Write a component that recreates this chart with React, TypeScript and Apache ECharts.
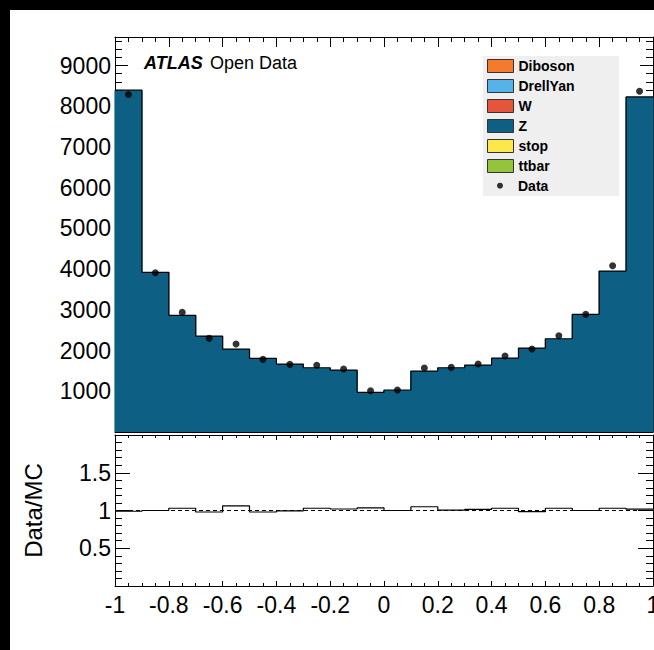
import React, { useEffect, useRef } from "react";
import * as echarts from "echarts";

// ---------- data ----------
const binEdges = [-1, -0.9, -0.8, -0.7, -0.6, -0.5, -0.4, -0.3, -0.2, -0.1, 0, 0.1, 0.2, 0.3, 0.4, 0.5, 0.6, 0.7, 0.8, 0.9, 1];

const processes = ["Diboson", "DrellYan", "W", "Z", "stop", "ttbar"];

const dibosonCounts = [0, 0, 0, 0, 0, 0, 0, 0, 0, 0, 0, 0, 0, 0, 0, 0, 0, 0, 0, 0];
const drellYanCounts = [0, 0, 0, 0, 0, 0, 0, 0, 0, 0, 0, 0, 0, 0, 0, 0, 0, 0, 0, 0];
const wCounts = [0, 0, 0, 0, 0, 0, 0, 0, 0, 0, 0, 0, 0, 0, 0, 0, 0, 0, 0, 0];
const zCounts = [8393, 3920, 2864, 2356, 2037, 1808, 1669, 1578, 1521, 974, 1031, 1497, 1578, 1644, 1816, 2061, 2290, 2888, 3951, 8228];
const stopCounts = [0, 0, 0, 0, 0, 0, 0, 0, 0, 0, 0, 0, 0, 0, 0, 0, 0, 0, 0, 0];
const ttbarCounts = [0, 0, 0, 0, 0, 0, 0, 0, 0, 0, 0, 0, 0, 0, 0, 0, 0, 0, 0, 0];

const dataCounts = [8287, 3910, 2937, 2299, 2160, 1784, 1660, 1637, 1546, 1013, 1031, 1571, 1587, 1669, 1865, 2037, 2364, 2888, 4081, 8368];

const ratioValues = [0.99, 1.0, 1.03, 0.98, 1.06, 0.98, 0.995, 1.03, 1.02, 1.035, 1.0, 1.05, 1.005, 1.015, 1.03, 0.985, 1.03, 1.0, 1.03, 1.017];

const xTickLabels = ["-1", "-0.8", "-0.6", "-0.4", "-0.2", "0", "0.2", "0.4", "0.6", "0.8", "1"];
const yTickLabels = ["1000", "2000", "3000", "4000", "5000", "6000", "7000", "8000", "9000"];
const ratioTickLabels = ["0.5", "1", "1.5"];

// ---------- styles ----------
const processColors: Record<string, string> = {
  Diboson: "#f57b2c",
  DrellYan: "#56b3ea",
  W: "#e4553a",
  Z: "#0d6084",
  stop: "#fde84b",
  ttbar: "#93c43a",
};
const FONT = "Liberation Sans";

export default function App() {
  const ref = useRef<HTMLDivElement>(null);

  useEffect(() => {
    if (!ref.current) return;
    document.documentElement.style.overflow = "hidden";
    document.body.style.overflow = "hidden";
    const chart = echarts.init(ref.current, undefined, { renderer: "svg" });

    const countsByProcess: Record<string, number[]> = {
      Diboson: dibosonCounts,
      DrellYan: drellYanCounts,
      W: wCounts,
      Z: zCounts,
      stop: stopCounts,
      ttbar: ttbarCounts,
    };
    const stackOrder = ["Z", "DrellYan", "W", "Diboson", "stop", "ttbar"];
    const base = zCounts.map(() => 0);
    const stackSeries: any[] = [];
    stackOrder.forEach((name) => {
      const vals = countsByProcess[name];
      const rows = vals.map((v, i) => {
        const row = [binEdges[i], binEdges[i + 1], base[i], base[i] + v, v];
        base[i] += v;
        return row;
      });
      stackSeries.push({
        name,
        type: "custom",
        xAxisIndex: 0,
        yAxisIndex: 0,
        itemStyle: { color: processColors[name] },
        encode: { x: [0, 1], y: [2, 3] },
        data: rows,
        z: 2,
        renderItem: (_p: any, api: any) => {
          if (api.value(4) <= 0) return null;
          const p0 = api.coord([api.value(0), api.value(3)]);
          const p1 = api.coord([api.value(1), api.value(2)]);
          return {
            type: "rect",
            shape: { x: p0[0] - 0.6, y: p0[1], width: p1[0] - p0[0] + 1.2, height: p1[1] - p0[1] },
            style: { fill: processColors[name] },
          };
        },
      });
    });
    const totals = base;

    const outline = binEdges.map((e, i) => [e, totals[Math.min(i, totals.length - 1)]]);
    const dataPoints = dataCounts.map((v, i) => [(binEdges[i] + binEdges[i + 1]) / 2, v]);
    const ratioLine = binEdges.map((e, i) => [e, ratioValues[Math.min(i, ratioValues.length - 1)]]);

    const black = "#000";
    const mkX = (gridIndex: number, position: string, major: number, minor: number, labels: boolean) => ({
      type: "value",
      gridIndex,
      position,
      min: -1,
      max: 1,
      interval: 0.2,
      splitLine: { show: false },
      axisLine: { show: true, onZero: false, lineStyle: { color: black, width: 1 } },
      axisTick: { show: true, inside: true, length: major, lineStyle: { color: black, width: 1 } },
      minorTick: { show: true, splitNumber: 4, length: minor, lineStyle: { color: black, width: 1 } },
      axisLabel: labels
        ? {
            show: true,
            margin: 7,
            color: black,
            fontFamily: FONT,
            fontSize: 23,
            showMinLabel: true,
            showMaxLabel: true,
            hideOverlap: false,
            formatter: (v: number) => xTickLabels[Math.round((v + 1) / 0.2)] ?? "",
          }
        : { show: false },
    });

    const mkY = (
      gridIndex: number,
      position: string,
      min: number,
      max: number,
      interval: number,
      major: number,
      minor: number,
      labels: string[] | null,
      extra: any = {}
    ) => ({
      type: "value",
      gridIndex,
      position,
      min,
      max,
      interval,
      splitLine: { show: false },
      axisLine: { show: true, onZero: false, lineStyle: { color: black, width: 1 } },
      axisTick: { show: true, inside: true, length: major, lineStyle: { color: black, width: 1 } },
      minorTick: { show: true, splitNumber: 5, length: minor, lineStyle: { color: black, width: 1 } },
      axisLabel: labels
        ? {
            show: true,
            margin: 4,
            color: black,
            fontFamily: FONT,
            fontSize: 23,
            formatter: (v: number) => {
              const s = String(+v.toFixed(2));
              return labels.includes(s) ? s : "";
            },
          }
        : { show: false },
      ...extra,
    });

    const legendText = { fontFamily: FONT, fontWeight: "bold", fontSize: 14, color: black };

    chart.setOption({
      animation: false,
      backgroundColor: "#fff",
      grid: [
        { left: 115, top: 37, width: 538, height: 395 },
        { left: 115, top: 435, width: 538, height: 151 },
      ],
      xAxis: [
        mkX(0, "bottom", 10, 5, false),
        mkX(0, "top", 10, 5, false),
        mkX(1, "bottom", 5, 3, true),
        mkX(1, "top", 5, 3, false),
      ],
      yAxis: [
        mkY(0, "left", 0, 9700, 1000, 13, 7, yTickLabels),
        mkY(0, "right", 0, 9700, 1000, 13, 7, null),
        mkY(1, "left", 0, 2, 0.5, 15, 7, ratioTickLabels, {
          name: "Data/MC",
          nameLocation: "middle",
          nameGap: 70,
          nameTextStyle: { fontFamily: FONT, fontSize: 24, color: black },
        }),
        mkY(1, "right", 0, 2, 0.5, 15, 7, null),
      ],
      legend: [
        {
          data: processes.map((name) => ({ name, icon: "rect" })),
          orient: "vertical",
          left: 487,
          top: 59,
          itemWidth: 26,
          itemHeight: 13,
          itemGap: 6,
          padding: 0,
          selectedMode: false,
          textStyle: legendText,
          itemStyle: { borderColor: "#333", borderWidth: 1 },
          z: 10,
        },
        {
          data: [{ name: "Data", icon: "circle" }],
          orient: "vertical",
          left: 497,
          top: 178.7,
          itemWidth: 26,
          itemHeight: 6,
          padding: 0,
          selectedMode: false,
          textStyle: legendText,
          itemStyle: { borderWidth: 0 },
          z: 10,
        },
      ],
      graphic: [
        { type: "rect", shape: { x: 0, y: 0, width: 10, height: 650 }, style: { fill: "#000" }, z: 100 },
        { type: "rect", shape: { x: 0, y: 0, width: 700, height: 10 }, style: { fill: "#000" }, z: 100 },
        { type: "rect", shape: { x: 483, y: 56, width: 136, height: 140 }, style: { fill: "#efefef" }, z: 0 },
        {
          type: "text",
          x: 144,
          y: 63,
          style: { text: "ATLAS", fontFamily: FONT, fontWeight: "bold", fontStyle: "italic", fontSize: 18, fill: black, verticalAlign: "middle" },
          z: 10,
        },
        {
          type: "text",
          x: 210,
          y: 63,
          style: { text: "Open Data", fontFamily: FONT, fontSize: 18, fill: black, verticalAlign: "middle" },
          z: 10,
        },
      ],
      series: [
        ...stackSeries,
        {
          name: "MC outline",
          type: "line",
          xAxisIndex: 0,
          yAxisIndex: 0,
          step: "end",
          symbol: "none",
          data: outline,
          lineStyle: { color: black, width: 1.2 },
          z: 3,
          silent: true,
        },
        {
          name: "Data",
          type: "scatter",
          xAxisIndex: 0,
          yAxisIndex: 0,
          symbol: "circle",
          symbolSize: 7,
          itemStyle: { color: black },
          data: dataPoints,
          z: 4,
        },
        {
          name: "Ratio",
          type: "line",
          xAxisIndex: 2,
          yAxisIndex: 2,
          step: "end",
          symbol: "none",
          data: ratioLine,
          lineStyle: { color: black, width: 1.2 },
          z: 4,
          markLine: {
            silent: true,
            symbol: "none",
            label: { show: false },
            lineStyle: { color: black, width: 1, type: [4, 3] },
            data: [{ yAxis: 1 }],
          },
        },
      ],
    });

    return () => chart.dispose();
  }, []);

  return (
    <div
      ref={ref}
      style={{ position: "fixed", left: 0, top: 0, width: 690, height: 650, background: "#fff" }}
    />
  );
}
